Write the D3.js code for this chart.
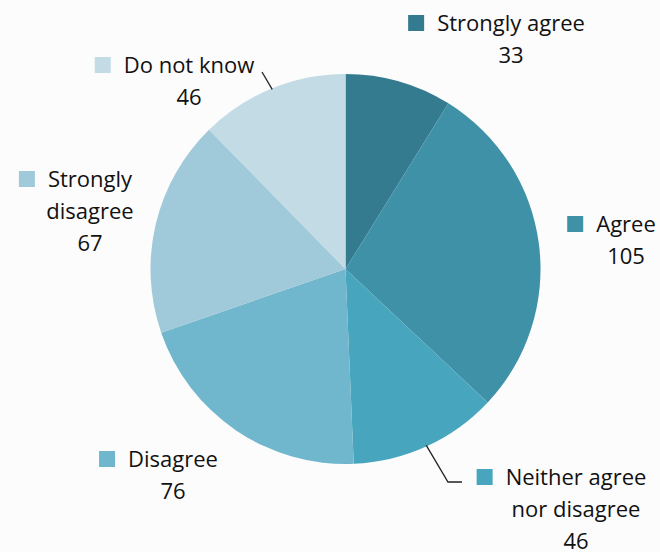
<!DOCTYPE html>
<html>
<head>
<meta charset="utf-8">
<script src="https://cdn.jsdelivr.net/npm/d3@7"></script>
<style>
  html, body { margin: 0; padding: 0; background: #fcfcfc; }
  svg { display: block; }
</style>
</head>
<body>
<svg id="chart" width="660" height="552"></svg>
<script>
const categories = ['Strongly agree', 'Agree', 'Neither agree nor disagree', 'Disagree', 'Strongly disagree', 'Do not know']
const counts = [33, 105, 46, 76, 67, 46]
const labelLines = [
  ['Strongly agree'],
  ['Agree'],
  ['Neither agree', 'nor disagree'],
  ['Disagree'],
  ['Strongly', 'disagree'],
  ['Do not know']
]
const colors = ['#347b8f', '#3f91a8', '#47a6bd', '#70b6cc', '#a0c9d9', '#c2dbe4']

const cx = 345.5
const cy = 269
const radius = 195
const lineHeight = 32
const fontSize = 22

// label block: centre x of text, baseline of first line
const labelPos = [
  { x: 511, y: 31 },
  { x: 626, y: 232 },
  { x: 576, y: 485 },
  { x: 173, y: 467 },
  { x: 90, y: 187 },
  { x: 189, y: 73 }
]

const svg = d3.select('#chart')

const data = categories.map((c, i) => ({ key: c, value: counts[i], lines: labelLines[i] }))

const color = d3.scaleOrdinal()
  .domain(categories)
  .range(colors)

const pie = d3.pie()
  .value(d => d.value)
  .sort(null)

const arc = d3.arc()
  .innerRadius(0)
  .outerRadius(radius)

const arcs = pie(data)

const g = svg.append('g')
  .attr('transform', `translate(${cx}, ${cy})`)

g.selectAll('path')
  .data(arcs)
  .enter()
  .append('path')
  .attr('d', arc)
  .attr('fill', d => color(d.data.key))

// leader lines for the two slices whose labels sit apart
const pointOn = (a, r) => [cx + r * Math.sin(a), cy - r * Math.cos(a)]
const leaders = [
  { i: 2, pts: [[448, 482], [462, 482]] },
  { i: 5, pts: [[262, 72]] }
]
leaders.forEach(l => {
  const s = arcs[l.i]
  const a = (s.startAngle + s.endAngle) / 2
  const p = pointOn(a, radius - 1)
  svg.append('path')
    .attr('d', d3.line()([p, ...l.pts]))
    .attr('fill', 'none')
    .attr('stroke', '#222')
    .attr('stroke-width', 1.3)
})

// labels
const labels = svg.append('g')
  .attr('font-family', '"Open Sans", Lato, sans-serif')
  .attr('font-size', fontSize + 'px')
  .attr('fill', '#111')

data.forEach((d, i) => {
  const pos = labelPos[i]
  const lines = d.lines.concat([String(d.value)])
  const t = labels.append('text')
    .attr('text-anchor', 'middle')
  lines.forEach((ln, j) => {
    t.append('tspan')
      .attr('x', pos.x)
      .attr('y', pos.y + j * lineHeight)
      .text(ln)
  })
  const firstWidth = t.select('tspan').node().getComputedTextLength()
  const start = pos.x - firstWidth / 2
  labels.append('rect')
    .attr('x', start - 29)
    .attr('y', pos.y - 16)
    .attr('width', 16)
    .attr('height', 16)
    .attr('fill', color(d.key))
})
</script>
</body>
</html>
